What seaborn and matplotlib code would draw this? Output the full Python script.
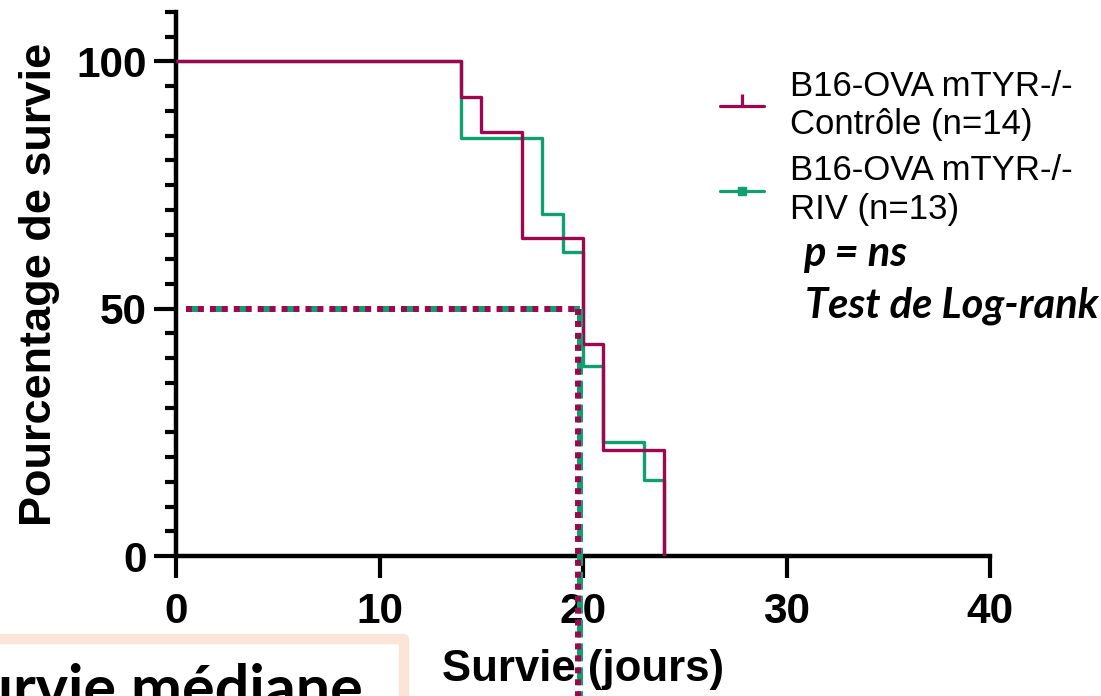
import numpy as np
import pandas as pd
import matplotlib
matplotlib.use("Agg")
import matplotlib.pyplot as plt
import seaborn as sns
from matplotlib.lines import Line2D
from matplotlib.patches import Rectangle
from matplotlib.ticker import MultipleLocator

# ---- data ----
ctrl_time = [0, 14, 15, 17, 20, 21, 24]
ctrl_surv = [100, 92.9, 85.7, 64.3, 42.9, 21.4, 0]
riv_time = [0, 14, 18, 19, 20, 21, 23, 24]
riv_surv = [100, 84.6, 69.2, 61.5, 38.5, 23.1, 15.4, 0]
median_survival = 19.85
median_level = 50
labels = ["B16-OVA mTYR-/-\nContrôle (n=14)", "B16-OVA mTYR-/-\nRIV (n=13)"]
x_ticks = [0, 10, 20, 30, 40]
y_ticks = [0, 50, 100]

MAG = "#A0064F"
GRN = "#0FA070"

sns.set_theme(style="ticks")
plt.rcParams["font.family"] = ["Liberation Sans", "DejaVu Sans"]
for k in ["text.color", "axes.labelcolor", "xtick.color", "ytick.color", "axes.edgecolor"]:
    plt.rcParams[k] = "black"

fig = plt.figure(figsize=(11.01, 6.96), dpi=100)
W, H = 1101, 696
ax = fig.add_axes([176 / W, 140 / H, 814 / W, 544 / H])

df = pd.concat([
    pd.DataFrame({"t": ctrl_time, "s": ctrl_surv, "g": labels[0]}),
    pd.DataFrame({"t": riv_time, "s": riv_surv, "g": labels[1]}),
])
sns.lineplot(data=df[df.g == labels[1]], x="t", y="s", color=GRN, lw=2.4,
             drawstyle="steps-post", estimator=None, ax=ax, legend=False, zorder=3)
sns.lineplot(data=df[df.g == labels[0]], x="t", y="s", color=MAG, lw=2.4,
             drawstyle="steps-post", estimator=None, ax=ax, legend=False, zorder=4)

# median lines (alternating magenta / green dashes)
lwm = 4.3
ax.plot([0.5, median_survival], [median_level, median_level], color=MAG, lw=lwm,
        linestyle=(0, (3, 1)), dash_capstyle="butt", zorder=10, clip_on=False)
ax.plot([0.5, median_survival], [median_level, median_level], color=GRN, lw=lwm,
        linestyle=(3, (1, 3)), dash_capstyle="butt", zorder=11, clip_on=False)
ax.plot([median_survival, median_survival], [median_level, -30], color=GRN, lw=lwm,
        linestyle=(0, (3, 1)), dash_capstyle="butt", zorder=10, clip_on=False)
ax.plot([median_survival - 0.1, median_survival - 0.1], [median_level, -30], color=MAG, lw=lwm,
        linestyle=(0, (1, 1)), dash_capstyle="butt", zorder=11, clip_on=False)

ax.set_xlim(0, 40)
ax.set_ylim(0, 110)
ax.set_xticks(x_ticks)
ax.set_yticks(y_ticks)
ax.yaxis.set_minor_locator(MultipleLocator(5))
sns.despine(ax=ax)
for sp in ["left", "bottom"]:
    ax.spines[sp].set_linewidth(3.2)
    ax.spines[sp].set_color("black")
ax.tick_params(axis="both", which="major", length=16, width=3.0, color="black",
               labelsize=30.5, labelcolor="black")
ax.tick_params(axis="y", which="major", pad=5)
ax.tick_params(axis="x", which="major", pad=10)
ax.tick_params(axis="y", which="minor", length=8, width=3.0, color="black")
for lab in ax.get_xticklabels() + ax.get_yticklabels():
    lab.set_fontweight("bold")

ax.set_xlabel("Survie (jours)", fontsize=31.5, fontweight="bold", labelpad=12.5, color="black")
ax.set_ylabel("Pourcentage de survie", fontsize=32.5, fontweight="bold", labelpad=12, color="black")

# legend
handles = [
    Line2D([], [], color=MAG, lw=2.3, marker=2, markersize=9, markeredgewidth=2.3),
    Line2D([], [], color=GRN, lw=2.3, marker="s", markersize=6),
]
leg = ax.legend(handles, labels, loc="upper left", bbox_to_anchor=(720 / W, 1 - 70 / H),
                bbox_transform=fig.transFigure, frameon=False, fontsize=25,
                handlelength=1.27, handletextpad=0.75, labelspacing=0.38,
                borderpad=0, borderaxespad=0)
for t in leg.get_texts():
    t.set_linespacing(1.2)
    t.set_color("black")

fig.text(803 / W, 1 - 254 / H, "p = ns", fontsize=30, fontweight="bold",
         style="italic", family=["Lato", "DejaVu Sans"], va="center", ha="left", color="black")
fig.text(805 / W, 1 - 306 / H, "Test de Log-rank", fontsize=30, fontweight="bold",
         style="italic", family=["Lato", "DejaVu Sans"], va="center", ha="left", color="black")

# "Survie médiane" box (cropped at the figure edges, as in the reference)
box = Rectangle((-60 / W, -60 / H), (404 + 60) / W, (60 + 57) / H,
                transform=fig.transFigure, facecolor="white", edgecolor="#FBE5D6",
                lw=7.5, joinstyle="round", zorder=0)
fig.add_artist(box)
fig.text(-55 / W, -13 / H, "Survie médiane", fontsize=44, fontweight="bold",
         family=["Lato", "DejaVu Sans"], va="baseline", ha="left", color="black")

fig.savefig("out.png", dpi=100)
